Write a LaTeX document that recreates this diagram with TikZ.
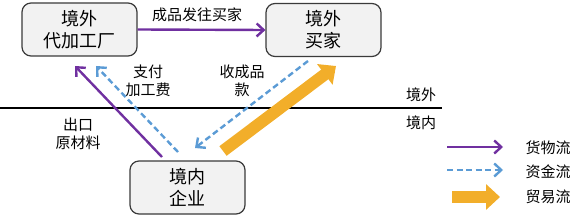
\documentclass[tikz,border=0pt]{standalone}
\usepackage{fontspec}
\setmainfont{Noto Sans CJK SC}
\usetikzlibrary{arrows.meta}
\definecolor{pur}{HTML}{7030A0}
\definecolor{blu}{HTML}{5B9BD5}
\definecolor{org}{HTML}{F2AE2A}
\definecolor{boxfill}{HTML}{F2F2F2}
\definecolor{boxdraw}{HTML}{3A3A3A}
\begin{document}
\begin{tikzpicture}[x=1pt,y=-1pt,
 entity/.style={draw=boxdraw, line width=1.2pt, fill=boxfill, rounded corners=9pt, minimum width=115pt, minimum height=53pt, align=center, font=\fontsize{18}{22}\selectfont, inner sep=0pt},
 lbl/.style={align=center, font=\fontsize{15}{18}\selectfont, inner sep=0pt},
 goods/.style={draw=pur, line width=2.4pt, -{Straight Barb[length=7pt,width=13pt]}},
 money/.style={draw=blu, line width=2.4pt, dash pattern=on 6pt off 3.5pt, -{Straight Barb[length=7pt,width=13pt]}},
 trade/.style={draw=org, line width=12pt, -{Triangle[length=14pt,width=25pt]}},
]
\useasboundingbox (0,0) rectangle (588,216);
% boxes
\node[entity] (A) at (79.5,29.5) {境外\\代加工厂};
\node[entity] (B) at (323.5,30) {境外\\买家};
\node[entity] (C) at (187.5,187.5) {境内\\企业};
% border line
\coordinate (L1) at (0,108);
\coordinate (L2) at (442,108);
\draw[line width=2.5pt] (L1) -- (L2);
\node[lbl] (out) at (421,95) {境外};
\node[lbl] (in) at (421,123) {境内};
% flows
\draw[goods] (A.east) -- (B.west);
\node[lbl] (t1) at (197,15) {成品发往买家};
\coordinate (pC) at (162,157);
\coordinate (pA) at (75,66);
\draw[goods] (pC) -- (pA);
\coordinate (mC) at (178,152);
\coordinate (mA) at (96,66);
\draw[money] (mC) -- (mA);
\coordinate (mB) at (308,61);
\coordinate (mC2) at (195,148);
\draw[money] (mB) -- (mC2);
\coordinate (tC) at (223,151);
\coordinate (tB) at (336,66);
\draw[trade] (tC) -- (tB);
\node[lbl] (t2) at (148,81) {支付\\加工费};
\node[lbl] (t3) at (242,81) {收成品\\款};
\node[lbl] (t4) at (78,134) {出口\\原材料};
% legend
\coordinate (g1) at (447,147); \coordinate (g2) at (503,147);
\draw[goods] (g1) -- (g2);
\node[lbl] (lg) at (548,148) {货物流};
\coordinate (z1) at (447,170); \coordinate (z2) at (503,170);
\draw[money] (z1) -- (z2);
\node[lbl] (lz) at (548,172) {资金流};
\coordinate (m1) at (452,197); \coordinate (m2) at (500,197);
\draw[trade] (m1) -- (m2);
\node[lbl] (lm) at (548,197) {贸易流};
\end{tikzpicture}
\end{document}
